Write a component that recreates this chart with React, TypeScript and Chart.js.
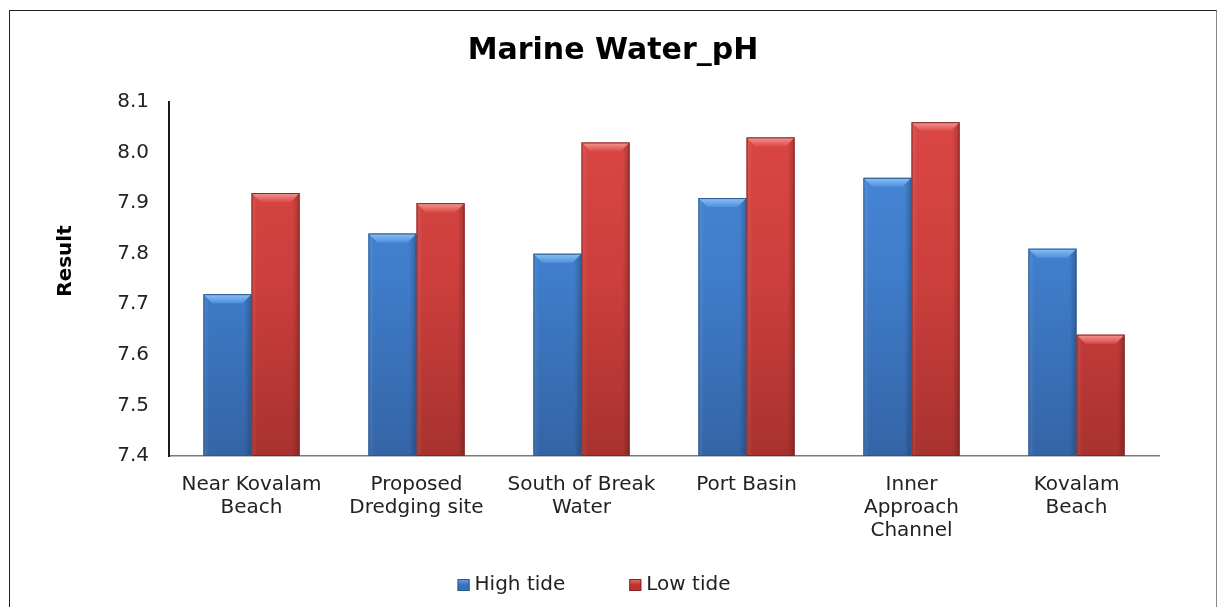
import React, { useEffect, useRef } from 'react';
import { Chart, registerables } from 'chart.js';

Chart.register(...registerables);

// ---- data ----
const categories: string[][] = [
  ['Near Kovalam', 'Beach'],
  ['Proposed', 'Dredging site'],
  ['South of Break', 'Water'],
  ['Port Basin'],
  ['Inner', 'Approach', 'Channel'],
  ['Kovalam', 'Beach'],
];
const highTide = [7.72, 7.84, 7.8, 7.91, 7.95, 7.81];
const lowTide = [7.92, 7.9, 8.02, 8.03, 8.06, 7.64];
const seriesNames = ['High tide', 'Low tide'];
const chartTitle = 'Marine Water_pH';
const yTitle = 'Result';
const yMin = 7.4;
const yMax = 8.1;
const yStep = 0.1;

// ---- styles ----
const FONT = '"DejaVu Sans", Verdana, sans-serif';
const palettes = [
  { top: '#4a8bdb', mid: '#3f7cc9', bottom: '#3464a6', hiTop: '#8cc2f5', hiBot: '#4f90dd', edge: '#2b5890', legend: '#3c6fb8', legendHi: '#6aa6ea' },
  { top: '#dc4845', mid: '#cc3f3c', bottom: '#a8322f', hiTop: '#f29a96', hiBot: '#dc4a47', edge: '#862422', legend: '#c0302e', legendHi: '#e8706c' },
];

const bevelPlugin = {
  id: 'bevel',
  afterDatasetsDraw(chart: any) {
    const ctx = chart.ctx as CanvasRenderingContext2D;
    const area = chart.chartArea;
    chart.data.datasets.forEach((_ds: any, di: number) => {
      const meta = chart.getDatasetMeta(di);
      const pal = palettes[di];
      meta.data.forEach((bar: any) => {
        const { x, y, base, width } = bar.getProps(['x', 'y', 'base', 'width'], true);
        const l = x - width / 2;
        const r = x + width / 2;
        const t = Math.max(y, area.top);
        const b = Math.min(base, area.bottom);
        const h = b - t;
        if (h <= 0) return;
        const bev = Math.min(9, h / 2);
        ctx.save();
        ctx.beginPath();
        ctx.rect(area.left, area.top, area.right - area.left, area.bottom - area.top);
        ctx.clip();
        const sg = ctx.createLinearGradient(l, 0, r, 0);
        sg.addColorStop(0, 'rgba(255,255,255,0.10)');
        sg.addColorStop(0.12, 'rgba(255,255,255,0.0)');
        sg.addColorStop(0.85, 'rgba(0,0,0,0.0)');
        sg.addColorStop(1, 'rgba(0,0,0,0.22)');
        ctx.fillStyle = sg;
        ctx.fillRect(l, t, width, h);
        const g = ctx.createLinearGradient(0, t, 0, t + bev);
        g.addColorStop(0, pal.hiTop);
        g.addColorStop(1, pal.hiBot);
        ctx.fillStyle = g;
        ctx.beginPath();
        ctx.moveTo(l, t);
        ctx.lineTo(r, t);
        ctx.lineTo(r - bev, t + bev);
        ctx.lineTo(l + bev, t + bev);
        ctx.closePath();
        ctx.fill();
        ctx.strokeStyle = pal.edge;
        ctx.lineWidth = 1;
        ctx.strokeRect(l + 0.5, t + 0.5, width - 1, h - 1);
        ctx.restore();
      });
    });
  },
};

// legend and y-axis title drawn from dataset labels / yTitle
const legendPlugin = {
  id: 'customLegend',
  afterDraw(chart: any) {
    const ctx = chart.ctx as CanvasRenderingContext2D;
    const area = chart.chartArea;
    ctx.save();
    // y title
    ctx.font = `bold 20px ${FONT}`;
    ctx.fillStyle = '#000';
    ctx.textAlign = 'center';
    ctx.textBaseline = 'middle';
    ctx.translate(56, (area.top + area.bottom) / 2 - 18);
    ctx.rotate(-Math.PI / 2);
    ctx.fillText(yTitle, 0, 0);
    ctx.restore();

    ctx.save();
    ctx.font = `20px ${FONT}`;
    ctx.textBaseline = 'middle';
    ctx.textAlign = 'left';
    const box = 12;
    const gap = 5;
    const itemGap = 64;
    const labels = chart.data.datasets.map((d: any) => d.label as string);
    const widths = labels.map((t: string) => box + gap + ctx.measureText(t).width);
    const total = widths.reduce((a: number, b: number) => a + b, 0) + itemGap * (labels.length - 1);
    const cx = chart.width / 2 - 19;
    const cy = area.bottom + 129;
    let x = cx - total / 2;
    labels.forEach((t: string, i: number) => {
      const pal = palettes[i];
      const g = ctx.createLinearGradient(0, cy - box / 2, 0, cy + box / 2);
      g.addColorStop(0, pal.legendHi);
      g.addColorStop(0.5, pal.legend);
      g.addColorStop(1, pal.legend);
      ctx.fillStyle = g;
      ctx.fillRect(x, cy - box / 2, box, box);
      ctx.strokeStyle = pal.edge;
      ctx.lineWidth = 1;
      ctx.strokeRect(x + 0.5, cy - box / 2 + 0.5, box - 1, box - 1);
      ctx.fillStyle = '#222';
      ctx.fillText(t, x + box + gap, cy);
      x += widths[i] + itemGap;
    });
    ctx.restore();
  },
};

function makeFill(di: number) {
  return (c: any) => {
    const chart = c.chart;
    const area = chart.chartArea;
    const pal = palettes[di];
    if (!area) return pal.mid;
    const g = chart.ctx.createLinearGradient(0, area.top, 0, area.bottom);
    g.addColorStop(0, pal.top);
    g.addColorStop(0.5, pal.mid);
    g.addColorStop(1, pal.bottom);
    return g;
  };
}

export default function App() {
  const ref = useRef<HTMLCanvasElement | null>(null);

  useEffect(() => {
    if (!ref.current) return;
    const chart = new Chart(ref.current, {
      type: 'bar',
      data: {
        labels: categories,
        datasets: [
          { label: seriesNames[0], data: highTide, backgroundColor: makeFill(0), borderWidth: 0 },
          { label: seriesNames[1], data: lowTide, backgroundColor: makeFill(1), borderWidth: 0 },
        ],
      },
      options: {
        responsive: false,
        animation: false,
        devicePixelRatio: 1,
        layout: { padding: { left: 0, right: 0, top: 0, bottom: 63 } },
        datasets: { bar: { categoryPercentage: 0.583, barPercentage: 1 } },
        plugins: {
          tooltip: { enabled: false },
          legend: { display: false },
          title: {
            display: true,
            text: chartTitle,
            color: '#000',
            font: { family: FONT, size: 30, weight: 'bold', lineHeight: 1.2 },
            padding: { top: 22, bottom: 33 },
          },
        },
        scales: {
          x: {
            grid: { display: false, drawTicks: false },
            border: { display: true, color: '#7a7a7a', width: 1.5 },
            ticks: {
              color: '#222',
              font: { family: FONT, size: 20, lineHeight: 1.15 },
              padding: 17,
              maxRotation: 0,
              autoSkip: false,
            },
            afterFit: (s: any) => {
              s.height = 88;
            },
          },
          y: {
            min: yMin,
            max: yMax,
            grid: { display: false, drawTicks: false },
            border: { display: true, color: '#1a1a1a', width: 2 },
            ticks: {
              stepSize: yStep,
              color: '#222',
              font: { family: FONT, size: 20 },
              padding: 20,
              callback: (v: any) => Number(v).toFixed(1),
            },
            afterFit: (s: any) => {
              s.width = 159;
            },
          },
          y2: {
            position: 'right',
            display: true,
            grid: { display: false, drawTicks: false },
            border: { display: false },
            ticks: { display: false },
            afterFit: (s: any) => {
              s.width = 57;
            },
          },
        },
      },
      plugins: [bevelPlugin, legendPlugin],
    } as any);
    return () => chart.destroy();
  }, []);

  return (
    <div
      style={{
        position: 'fixed',
        left: 9,
        top: 10,
        width: 1208,
        height: 597,
        boxSizing: 'border-box',
        borderTop: '1px solid #222',
        borderLeft: '1px solid #222',
        borderRight: '1px solid #888',
        background: '#fff',
      }}
    >
      <canvas ref={ref} width={1206} height={596} style={{ display: 'block', width: 1206, height: 596 }} />
    </div>
  );
}
